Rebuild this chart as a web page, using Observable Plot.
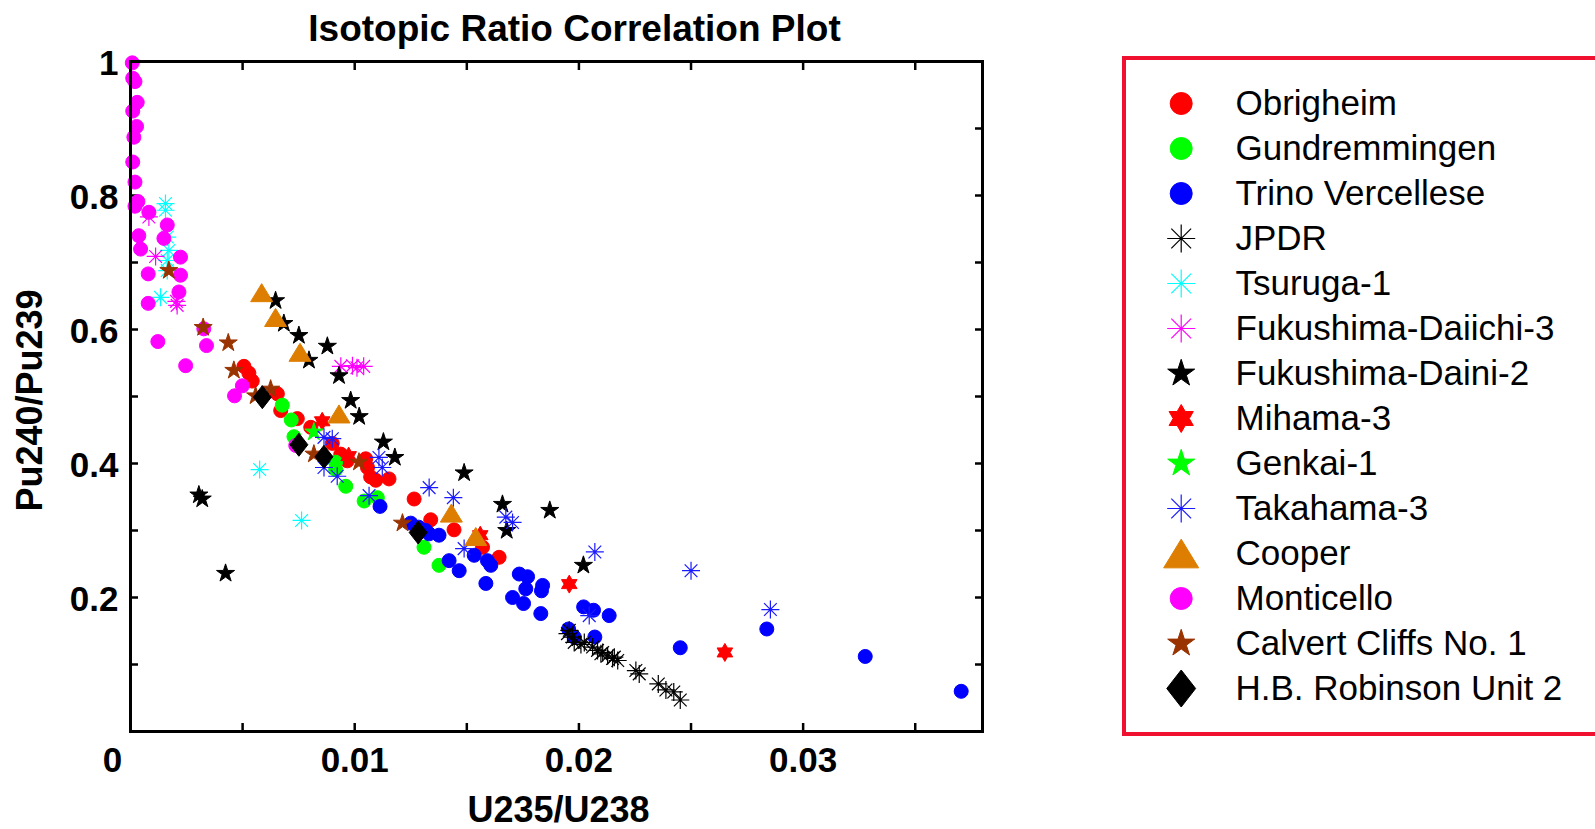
<!DOCTYPE html>
<html><head><meta charset="utf-8">
<script src="https://cdn.jsdelivr.net/npm/d3@7"></script>
<script src="https://cdn.jsdelivr.net/npm/@observablehq/plot@0.6"></script>
<style>
html,body{margin:0;padding:0;background:#fff;overflow:hidden;width:1595px;height:829px;}
#chart{position:absolute;left:0;top:0;}
#legend{position:absolute;left:1122px;top:56px;width:520px;height:672px;border:4px solid #f0102f;background:#fff;}
</style></head><body>
<div id="chart"></div><div id="legend"></div>
<script>
// ---- data (x = U235/U238, y = Pu240/Pu239) ----
const obrigheim = [[0.00506,0.545],[0.00528,0.535],[0.00543,0.523],[0.00655,0.504],[0.0067,0.479],[0.00744,0.467],[0.00804,0.454],[0.009,0.430],[0.00938,0.414],[0.00967,0.404],[0.01049,0.407],[0.01057,0.394],[0.01071,0.380],[0.01094,0.375],[0.01153,0.377],[0.01265,0.347],[0.01339,0.316],[0.01443,0.301],[0.0157,0.275],[0.01644,0.260]];
const gundremmingen = [[0.00677,0.487],[0.00717,0.465],[0.00729,0.440],[0.00915,0.402],[0.00915,0.391],[0.0096,0.366],[0.01042,0.344],[0.01101,0.349],[0.01309,0.275],[0.01376,0.248]];
const trinoVercellese = [[0.01113,0.336],[0.0125,0.311],[0.01285,0.305],[0.01317,0.300],[0.01332,0.295],[0.01376,0.293],[0.01421,0.255],[0.01466,0.240],[0.01533,0.263],[0.01592,0.255],[0.01607,0.248],[0.01585,0.221],[0.01734,0.235],[0.01771,0.231],[0.01763,0.213],[0.01704,0.200],[0.01753,0.191],[0.01838,0.218],[0.01833,0.210],[0.0183,0.176],[0.02021,0.186],[0.02065,0.181],[0.02135,0.173],[0.01954,0.153],[0.01979,0.141],[0.02071,0.141],[0.02452,0.125],[0.02838,0.153],[0.03277,0.112],[0.03705,0.060]];
const jpdr = [[0.01949,0.146],[0.01957,0.151],[0.01971,0.141],[0.01979,0.133],[0.02009,0.130],[0.02024,0.133],[0.02061,0.126],[0.02083,0.121],[0.02098,0.116],[0.02106,0.118],[0.02128,0.113],[0.0215,0.109],[0.02158,0.111],[0.02173,0.106],[0.02254,0.091],[0.02269,0.086],[0.02354,0.071],[0.02388,0.062],[0.02423,0.059],[0.02452,0.047]];
const tsuruga1 = [[0.00156,0.788],[0.00156,0.778],[0.00164,0.738],[0.00171,0.718],[0.00164,0.703],[0.00164,0.688],[0.00134,0.648],[0.00576,0.391],[0.00763,0.315]];
const fukushimaDaiichi3 = [[0.00082,0.768],[0.00112,0.709],[0.00208,0.636],[0.00205,0.642],[0.00938,0.545],[0.0099,0.546],[0.0101,0.543],[0.0104,0.545]];
const fukushimaDaini2 = [[0.00647,0.643],[0.00684,0.609],[0.00751,0.591],[0.00878,0.575],[0.00796,0.554],[0.0093,0.531],[0.00982,0.494],[0.0102,0.470],[0.01128,0.432],[0.01179,0.409],[0.01488,0.386],[0.01659,0.339],[0.01678,0.300],[0.0187,0.330],[0.0202,0.248],[0.00305,0.353],[0.0032,0.347],[0.00424,0.236]];
const mihama3 = [[0.00855,0.463],[0.00973,0.411],[0.0156,0.293],[0.01957,0.220],[0.02651,0.118]];
const genkai1 = [[0.00818,0.447]];
const takahama3 = [[0.00863,0.439],[0.009,0.437],[0.00863,0.394],[0.00922,0.381],[0.01108,0.409],[0.01123,0.394],[0.01064,0.352],[0.01332,0.364],[0.0144,0.349],[0.01488,0.273],[0.01674,0.320],[0.01704,0.312],[0.02071,0.268],[0.025,0.240],[0.02046,0.173],[0.02854,0.182]];
const cooper = [[0.00585,0.655],[0.00647,0.618],[0.00756,0.566],[0.0093,0.474],[0.01431,0.326],[0.0154,0.291]];
const monticello = [[0.00008,0.998],[0.0001,0.975],[0.0002,0.970],[0.0003,0.939],[0.0001,0.926],[0.00027,0.903],[0.00015,0.887],[0.0001,0.850],[0.0002,0.820],[0.00033,0.791],[0.0002,0.784],[0.00082,0.775],[0.00164,0.756],[0.00037,0.740],[0.00149,0.736],[0.00045,0.720],[0.00223,0.708],[0.00079,0.683],[0.00223,0.681],[0.00216,0.656],[0.00079,0.639],[0.00122,0.582],[0.00327,0.601],[0.00339,0.576],[0.00246,0.546],[0.00499,0.516],[0.00464,0.501],[0.00737,0.427]];
const calvertCliffs1 = [[0.00171,0.688],[0.00324,0.603],[0.00436,0.580],[0.00461,0.539],[0.00625,0.511],[0.00558,0.501],[0.00818,0.414],[0.01019,0.402],[0.01213,0.311]];
const hbRobinson2 = [[0.00588,0.499],[0.00751,0.428],[0.00863,0.410],[0.01283,0.297]];

const seriesNames = ["Obrigheim","Gundremmingen","Trino Vercellese","JPDR","Tsuruga-1","Fukushima-Daiichi-3","Fukushima-Daini-2","Mihama-3","Genkai-1","Takahama-3","Cooper","Monticello","Calvert Cliffs No. 1","H.B. Robinson Unit 2"];
const seriesData = [obrigheim,gundremmingen,trinoVercellese,jpdr,tsuruga1,fukushimaDaiichi3,fukushimaDaini2,mihama3,genkai1,takahama3,cooper,monticello,calvertCliffs1,hbRobinson2];

const xMinorTicks = [0.005,0.01,0.015,0.02,0.025,0.03,0.035];
const xTickValues = [0.01,0.02,0.03];
const xTickLabels = ["0.01","0.02","0.03"];
const yMinorTicks = [0.1,0.2,0.3,0.4,0.5,0.6,0.7,0.8,0.9];
const yTickValues = [0.2,0.4,0.6,0.8,1];
const yTickLabels = ["0.2","0.4","0.6","0.8","1"];
const titleText = "Isotopic Ratio Correlation Plot";
const xLabel = "U235/U238";
const yLabel = "Pu240/Pu239";

// ---- custom MATLAB-like marker symbols ----
function mk(fn){ return {draw(c, size){ fn(c, Math.sqrt(size/Math.PI)); }}; }
function starPath(c,n,R,ri){ for(let k=0;k<2*n;k++){ const rr=k%2?ri:R; const a=-Math.PI/2+k*Math.PI/n; const x=rr*Math.cos(a), y=rr*Math.sin(a); if(k) c.lineTo(x,y); else c.moveTo(x,y);} c.closePath(); }
const SYM = {
  circle: mk((c,r)=>{ c.moveTo(r,0); c.arc(0,0,r,0,2*Math.PI); c.closePath(); }),
  asterisk: mk((c,r)=>{ for(let k=0;k<4;k++){ const a=k*Math.PI/4, dx=r*Math.cos(a), dy=r*Math.sin(a); c.moveTo(-dx,-dy); c.lineTo(dx,dy);} }),
  pentagram: mk((c,r)=>starPath(c,5,r,r*0.382)),
  hexagram: mk((c,r)=>starPath(c,6,r,r/Math.sqrt(3))),
  triangle: mk((c,r)=>{ c.moveTo(0,-0.82*r); c.lineTo(r,0.82*r); c.lineTo(-r,0.82*r); c.closePath(); }),
  diamond: mk((c,r)=>{ c.moveTo(0,-r); c.lineTo(0.78*r,0); c.lineTo(0,r); c.lineTo(-0.78*r,0); c.closePath(); })
};
const style = {
  "Obrigheim": {sym:"circle", color:"#ff0000"},
  "Gundremmingen": {sym:"circle", color:"#00ff00"},
  "Trino Vercellese": {sym:"circle", color:"#0000ff"},
  "JPDR": {sym:"asterisk", color:"#000000"},
  "Tsuruga-1": {sym:"asterisk", color:"#00ffff"},
  "Fukushima-Daiichi-3": {sym:"asterisk", color:"#ff00ff"},
  "Fukushima-Daini-2": {sym:"pentagram", color:"#000000"},
  "Mihama-3": {sym:"hexagram", color:"#ff0000"},
  "Genkai-1": {sym:"pentagram", color:"#00ff00"},
  "Takahama-3": {sym:"asterisk", color:"#1a1aff"},
  "Cooper": {sym:"triangle", color:"#de7e00"},
  "Monticello": {sym:"circle", color:"#ff00ff"},
  "Calvert Cliffs No. 1": {sym:"pentagram", color:"#993300"},
  "H.B. Robinson Unit 2": {sym:"diamond", color:"#000000"}
};
const plotR = {circle:7, asterisk:9, pentagram:9.5, hexagram:9, triangle:11, diamond:11.5};
const legendR = {circle:11, asterisk:14, pentagram:14.2, hexagram:14, triangle:17.5, diamond:18.5};
function markOpts(name, rmap){
  const s = style[name];
  const isLine = s.sym === "asterisk";
  return {symbol: SYM[s.sym], r: rmap[s.sym], fill: isLine ? "none" : s.color, stroke: s.color, strokeWidth: isLine ? 1.2 : 1};
}

const font = "'Liberation Sans', Arial, sans-serif";
const xLabMap = new Map(xTickValues.map((v,i)=>[v,xTickLabels[i]]));
const yLabMap = new Map(yTickValues.map((v,i)=>[v,yTickLabels[i]]));

const chart = Plot.plot({
  width: 1000, height: 829,
  marginLeft: 130, marginRight: 18, marginTop: 61, marginBottom: 98,
  x: {domain: [0, 0.038], label: null},
  y: {domain: [0, 1], label: null},
  style: {fontFamily: font, color: "black", background: "white", overflow: "visible"},
  marks: [
    // inward ticks on all four sides
    Plot.axisX(xMinorTicks, {anchor: "bottom", tickSize: 8, dy: -8, strokeWidth: 2.5, tickFormat: () => "", label: null}),
    Plot.axisX(xMinorTicks, {anchor: "top", tickSize: 8, dy: 8, strokeWidth: 2.5, tickFormat: () => "", label: null}),
    Plot.axisY(yMinorTicks, {anchor: "left", tickSize: 8, dx: 8, strokeWidth: 2.5, tickFormat: () => "", label: null}),
    Plot.axisY(yMinorTicks, {anchor: "right", tickSize: 8, dx: -8, strokeWidth: 2.5, tickFormat: () => "", label: null}),
    // labels
    Plot.axisX(xTickValues, {anchor: "bottom", tickSize: 0, tickPadding: 16, tickFormat: d => xLabMap.get(d), fontSize: 35, fontWeight: "bold", label: null}),
    Plot.axisX([0], {anchor: "bottom", tickSize: 0, tickPadding: 16, dx: -18, tickFormat: () => "0", fontSize: 35, fontWeight: "bold", label: null}),
    Plot.axisY(yTickValues, {anchor: "left", tickSize: 0, tickPadding: 12, dy: 2, tickFormat: d => yLabMap.get(d), fontSize: 35, fontWeight: "bold", label: null}),
    ...seriesNames.map((name, i) => Plot.dot(seriesData[i], {x: d => d[0], y: d => d[1], ...markOpts(name, plotR)})),
    Plot.frame({stroke: "black", strokeWidth: 3}),
    Plot.text([titleText], {frameAnchor: "top", lineAnchor: "middle", dy: -32, dx: 18, fontSize: 37, fontWeight: "bold"}),
    Plot.text([xLabel], {frameAnchor: "bottom", lineAnchor: "middle", dy: 79, dx: 2, fontSize: 36, fontWeight: "bold"}),
    Plot.text([yLabel], {frameAnchor: "left", textAnchor: "middle", lineAnchor: "middle", rotate: -90, dx: -100, dy: 4, fontSize: 36, fontWeight: "bold"})
  ]
});
document.getElementById("chart").appendChild(chart);

const legend = Plot.plot({
  width: 520, height: 672, margin: 0,
  y: {type: "point", domain: seriesNames, range: [40.7, 630], padding: 0, axis: null},
  style: {fontFamily: font, color: "black", background: "white", overflow: "visible"},
  marks: [
    ...seriesNames.map(name => Plot.dot([name], {y: d => d, frameAnchor: "left", dx: 54.7, ...markOpts(name, legendR)})),
    Plot.text(seriesNames, {y: d => d, text: d => d, frameAnchor: "left", dx: 109, textAnchor: "start", fontSize: 35})
  ]
});
document.getElementById("legend").appendChild(legend);
</script></body></html>
